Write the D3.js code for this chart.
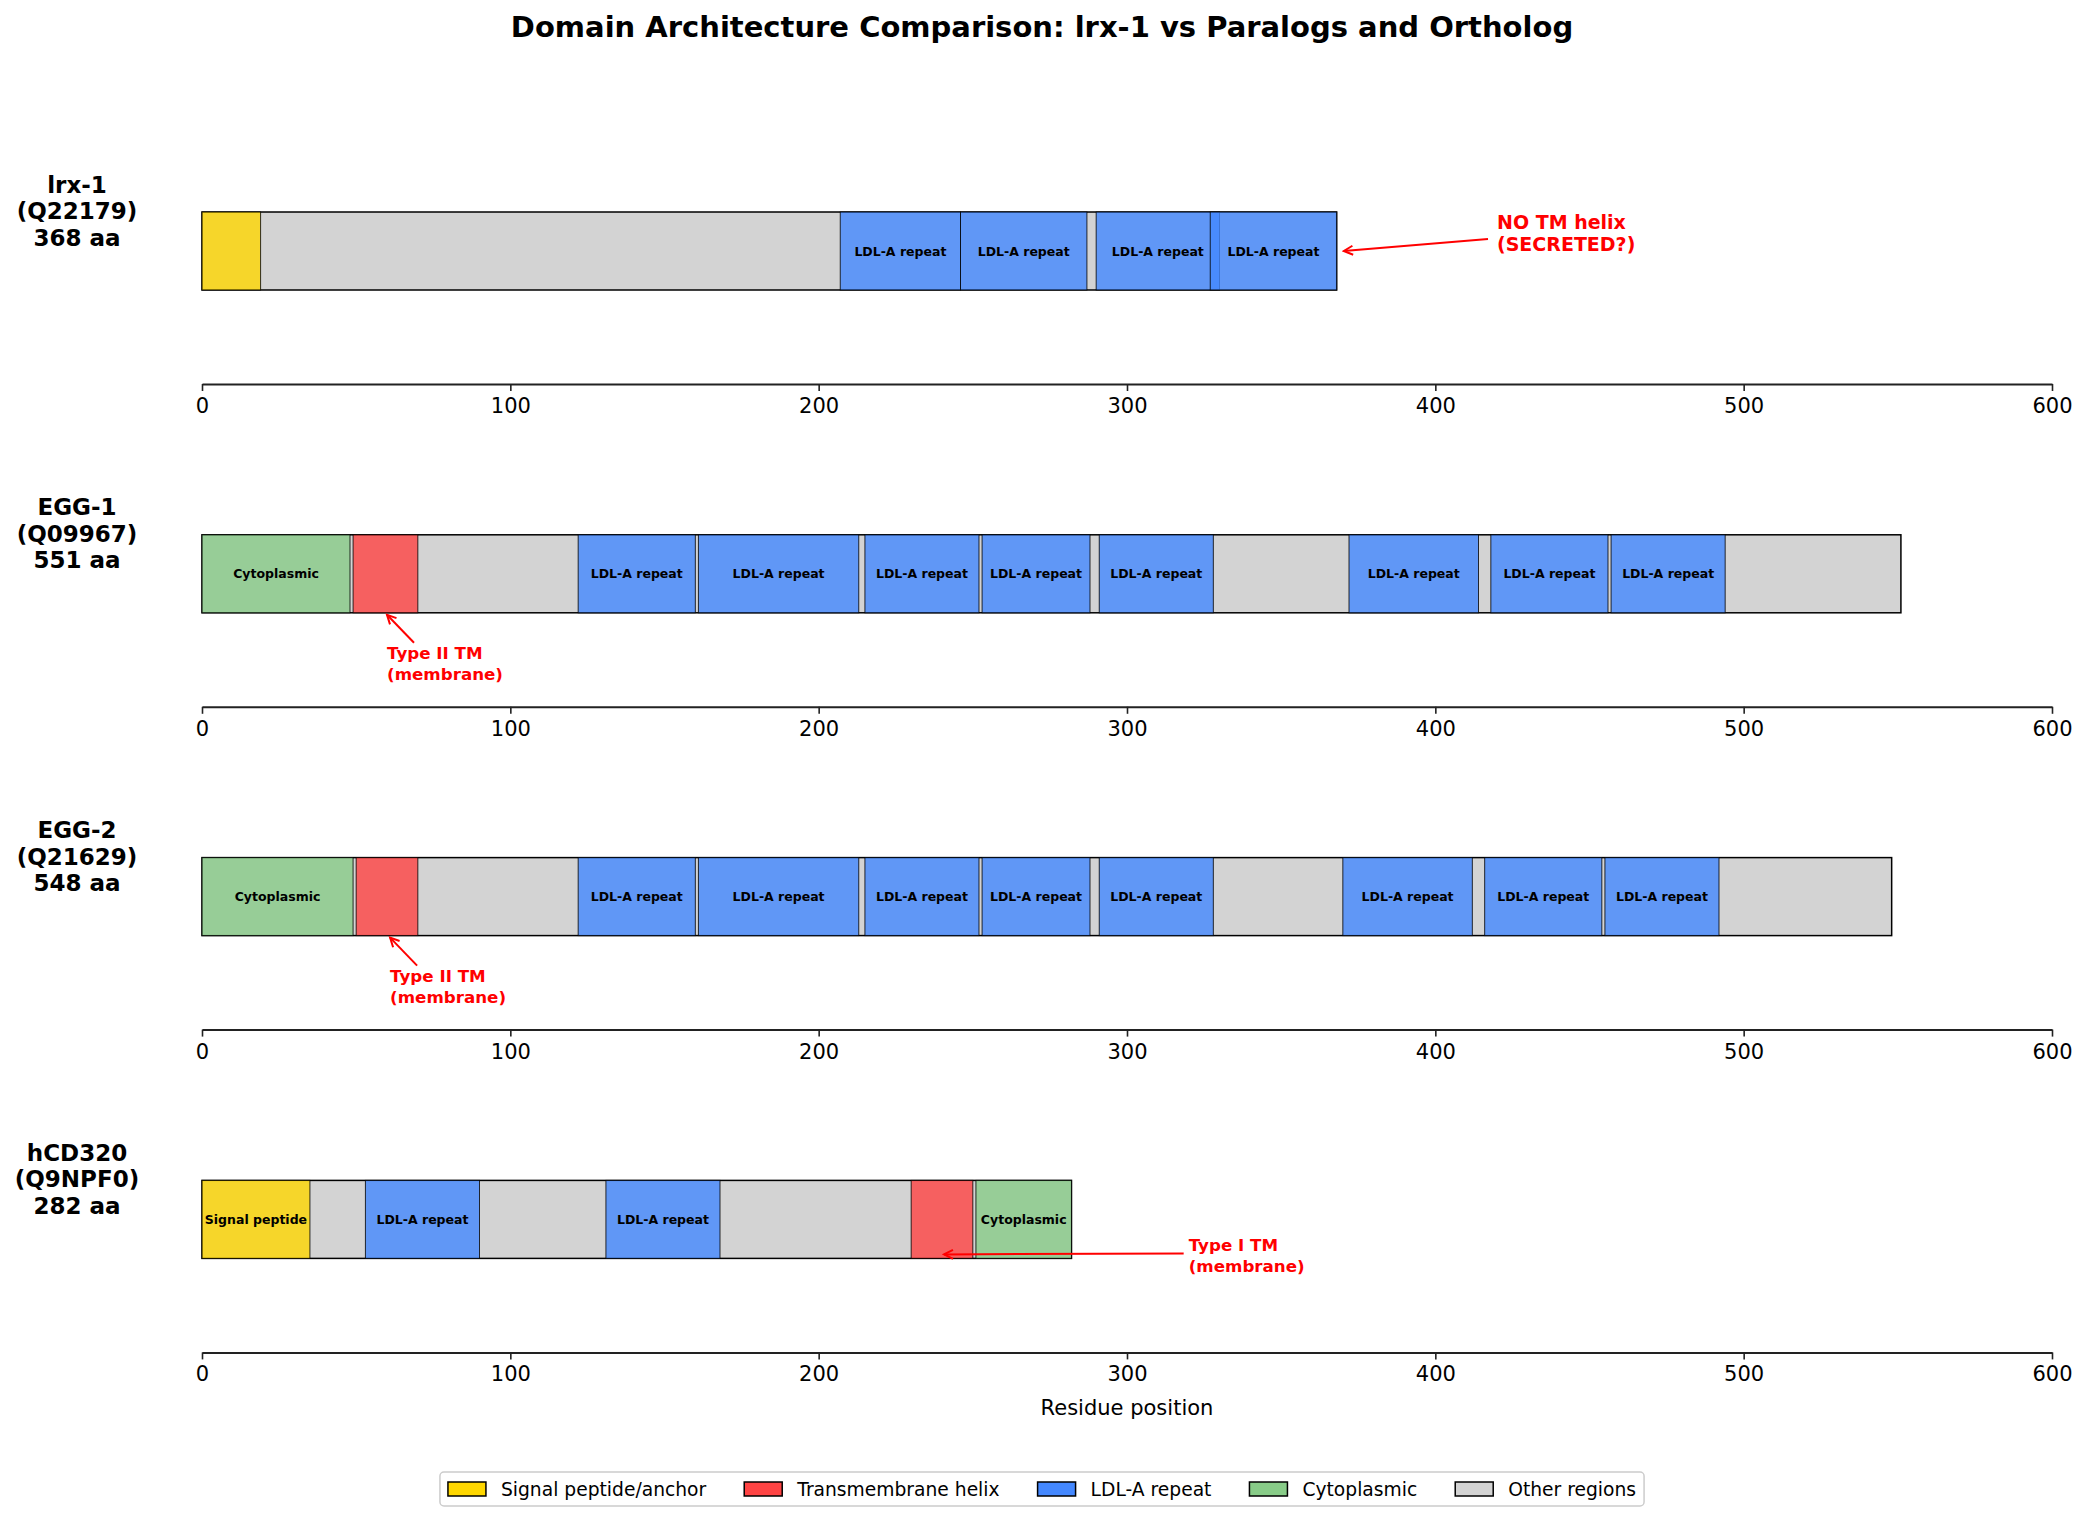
<!DOCTYPE html>
<html>
<head>
<meta charset="utf-8">
<script src="https://cdn.jsdelivr.net/npm/d3@7"></script>
<style>
  body { margin: 0; background: #fff; }
  text { font-family: "DejaVu Sans", sans-serif; }
</style>
</head>
<body>
<div id="chart"></div>
<script>
// proteins, top to bottom
var proteins = ["lrx-1", "EGG-1", "EGG-2", "hCD320"];
var accessions = ["Q22179", "Q09967", "Q21629", "Q9NPF0"];
var lengths = [368, 551, 548, 282];

// domain types and legend colours
var domainTypes = ["Signal peptide/anchor", "Transmembrane helix", "LDL-A repeat", "Cytoplasmic", "Other regions"];
var typeColors = ["#FFD700", "#FF4444", "#4488FF", "#88CC88", "#D3D3D3"];

// domains: [type index, start, end, label]
var lrx1Domains = [
    [0, 0, 19, ""],
    [2, 207, 246, "LDL-A repeat"],
    [2, 246, 287, "LDL-A repeat"],
    [2, 290, 330, "LDL-A repeat"],
    [2, 327, 368, "LDL-A repeat"]
];
var egg1Domains = [
    [3, 0, 48, "Cytoplasmic"],
    [1, 49, 70, ""],
    [2, 122, 160, "LDL-A repeat"],
    [2, 161, 213, "LDL-A repeat"],
    [2, 215, 252, "LDL-A repeat"],
    [2, 253, 288, "LDL-A repeat"],
    [2, 291, 328, "LDL-A repeat"],
    [2, 372, 414, "LDL-A repeat"],
    [2, 418, 456, "LDL-A repeat"],
    [2, 457, 494, "LDL-A repeat"]
];
var egg2Domains = [
    [3, 0, 49, "Cytoplasmic"],
    [1, 50, 70, ""],
    [2, 122, 160, "LDL-A repeat"],
    [2, 161, 213, "LDL-A repeat"],
    [2, 215, 252, "LDL-A repeat"],
    [2, 253, 288, "LDL-A repeat"],
    [2, 291, 328, "LDL-A repeat"],
    [2, 370, 412, "LDL-A repeat"],
    [2, 416, 454, "LDL-A repeat"],
    [2, 455, 492, "LDL-A repeat"]
];
var cd320Domains = [
    [0, 0, 35, "Signal peptide"],
    [2, 53, 90, "LDL-A repeat"],
    [2, 131, 168, "LDL-A repeat"],
    [1, 230, 250, ""],
    [3, 251, 282, "Cytoplasmic"]
];
var allDomains = [lrx1Domains, egg1Domains, egg2Domains, cd320Domains];

// annotations: protein index, text lines, target residue, text residue, placement
var notes = [
    [0, ["NO TM helix", "(SECRETED?)"], 370, 420, "right"],
    [1, ["Type II TM", "(membrane)"], 60, 60, "below"],
    [2, ["Type II TM", "(membrane)"], 61, 61, "below"],
    [3, ["Type I TM", "(membrane)"], 240, 320, "side"]
];

var xTicks = [0, 100, 200, 300, 400, 500, 600];

var W = 2085, H = 1520;
var svg = d3.select("#chart").append("svg")
    .attr("width", W)
    .attr("height", H)
    .attr("viewBox", "0 0 " + W + " " + H);

var x = d3.scaleLinear().domain([0, 600]).range([202, 2052]);
// bar centre per protein
var yc = d3.scalePoint().domain(proteins).range([251, 251 + 3 * 322.8]);
var barH = 78;

svg.append("defs").append("marker")
    .attr("id", "head")
    .attr("markerUnits", "userSpaceOnUse")
    .attr("viewBox", "-12 -6 14 12")
    .attr("refX", 0).attr("refY", 0)
    .attr("markerWidth", 14).attr("markerHeight", 12)
    .attr("orient", "auto")
    .append("path")
    .attr("d", "M-9,-4.5 L0,0 L-9,4.5")
    .attr("fill", "none")
    .attr("stroke", "red")
    .attr("stroke-width", 2);

// title
svg.append("text")
    .attr("x", 1042).attr("y", 37)
    .attr("text-anchor", "middle")
    .style("font-size", "29px").style("font-weight", "bold")
    .text("Domain Architecture Comparison: lrx-1 vs Paralogs and Ortholog");

proteins.forEach(function (name, i) {
    var cy = yc(name);
    var g = svg.append("g");

    // grey backbone
    g.append("rect")
        .attr("x", x(0)).attr("y", cy - barH / 2)
        .attr("width", x(lengths[i]) - x(0)).attr("height", barH)
        .attr("fill", typeColors[4])
        .attr("stroke", "#000").attr("stroke-width", 1.5);

    g.selectAll("rect.dom")
        .data(allDomains[i])
        .enter().append("rect")
        .attr("class", "dom")
        .attr("x", function (d) { return x(d[1]); })
        .attr("y", cy - barH / 2)
        .attr("width", function (d) { return x(d[2]) - x(d[1]); })
        .attr("height", barH)
        .attr("fill", function (d) { return typeColors[d[0]]; })
        .attr("fill-opacity", 0.8)
        .attr("stroke", "#000").attr("stroke-opacity", 0.8)
        .attr("stroke-width", 1);

    g.selectAll("text.dl")
        .data(allDomains[i].filter(function (d) { return d[3] !== ""; }))
        .enter().append("text")
        .attr("class", "dl")
        .attr("x", function (d) { return x((d[1] + d[2]) / 2); })
        .attr("y", cy + 4.5)
        .attr("text-anchor", "middle")
        .style("font-size", "12.5px").style("font-weight", "bold")
        .text(function (d) { return d[3]; });

    // protein label
    var lab = svg.append("text")
        .attr("x", 77)
        .attr("text-anchor", "middle")
        .style("font-size", "23px").style("font-weight", "bold");
    [name, "(" + accessions[i] + ")", lengths[i] + " aa"].forEach(function (s, k) {
        lab.append("tspan").attr("x", 77).attr("y", cy - 40 + (k - 1) * 26.5 + 8).text(s);
    });

    // axis
    var ax = svg.append("g")
        .attr("transform", "translate(0," + (cy + 133) + ")")
        .call(d3.axisBottom(x).tickValues(xTicks).tickSize(7).tickSizeOuter(0).tickPadding(7));
    ax.select(".domain").attr("stroke", "#222").attr("stroke-width", 2);
    ax.selectAll(".tick line").attr("stroke", "#222").attr("stroke-width", 1.6);
    ax.selectAll(".tick text")
        .style("font-family", "DejaVu Sans, sans-serif")
        .style("font-size", "21px").attr("fill", "#000");
});

// annotations
notes.forEach(function (n) {
    var cy = yc(proteins[n[0]]);
    var hx = x(n[2]), tx = x(n[3]);
    var head, tail, l1, fs = 16.7, lh = 21;
    if (n[4] === "right") {
        head = [hx + 1, cy];
        tail = [tx - 9, cy - 12];
        l1 = cy - 29;
        fs = 19; lh = 22;
    } else if (n[4] === "below") {
        head = [hx, cy + barH / 2 + 2];
        tail = [tx + 27, cy + barH / 2 + 30];
        l1 = cy + barH / 2 + 40;
    } else {
        head = [hx + 2, cy + barH / 2 - 4];
        tail = [tx - 5, cy + barH / 2 - 5];
        l1 = cy + barH / 2 - 14;
    }
    svg.append("line")
        .attr("x1", tail[0]).attr("y1", tail[1])
        .attr("x2", head[0]).attr("y2", head[1])
        .attr("stroke", "red").attr("stroke-width", 2)
        .attr("marker-end", "url(#head)");
    var t = svg.append("text")
        .attr("fill", "red")
        .style("font-size", fs + "px").style("font-weight", "bold");
    n[1].forEach(function (s, k) {
        t.append("tspan").attr("x", tx).attr("y", l1 + fs * 0.37 + k * lh).text(s);
    });
});

// x label
svg.append("text")
    .attr("x", x(300)).attr("y", 1415)
    .attr("text-anchor", "middle")
    .style("font-size", "21px")
    .text("Residue position");

// legend
var leg = svg.append("g");
var legBox = leg.append("rect")
    .attr("fill", "#fff").attr("stroke", "#ccc").attr("stroke-width", 1.5)
    .attr("rx", 4);
var cursor = 0;
domainTypes.forEach(function (name, i) {
    var it = leg.append("g").attr("transform", "translate(" + cursor + ",0)");
    it.append("rect")
        .attr("x", 0).attr("y", -7)
        .attr("width", 38).attr("height", 14)
        .attr("fill", typeColors[i])
        .attr("stroke", "#000").attr("stroke-width", 1.5);
    var tt = it.append("text")
        .attr("x", 53).attr("y", 7)
        .style("font-size", "18.7px")
        .text(name);
    var w = tt.node().getComputedTextLength();
    cursor += 53 + w + 38;
});
var legW = cursor - 38;
var legX = 1042 - legW / 2;
var legY = 1489;
leg.attr("transform", "translate(" + legX + "," + legY + ")");
legBox.attr("x", -8).attr("y", -17).attr("width", legW + 16).attr("height", 34);
</script>
</body>
</html>
